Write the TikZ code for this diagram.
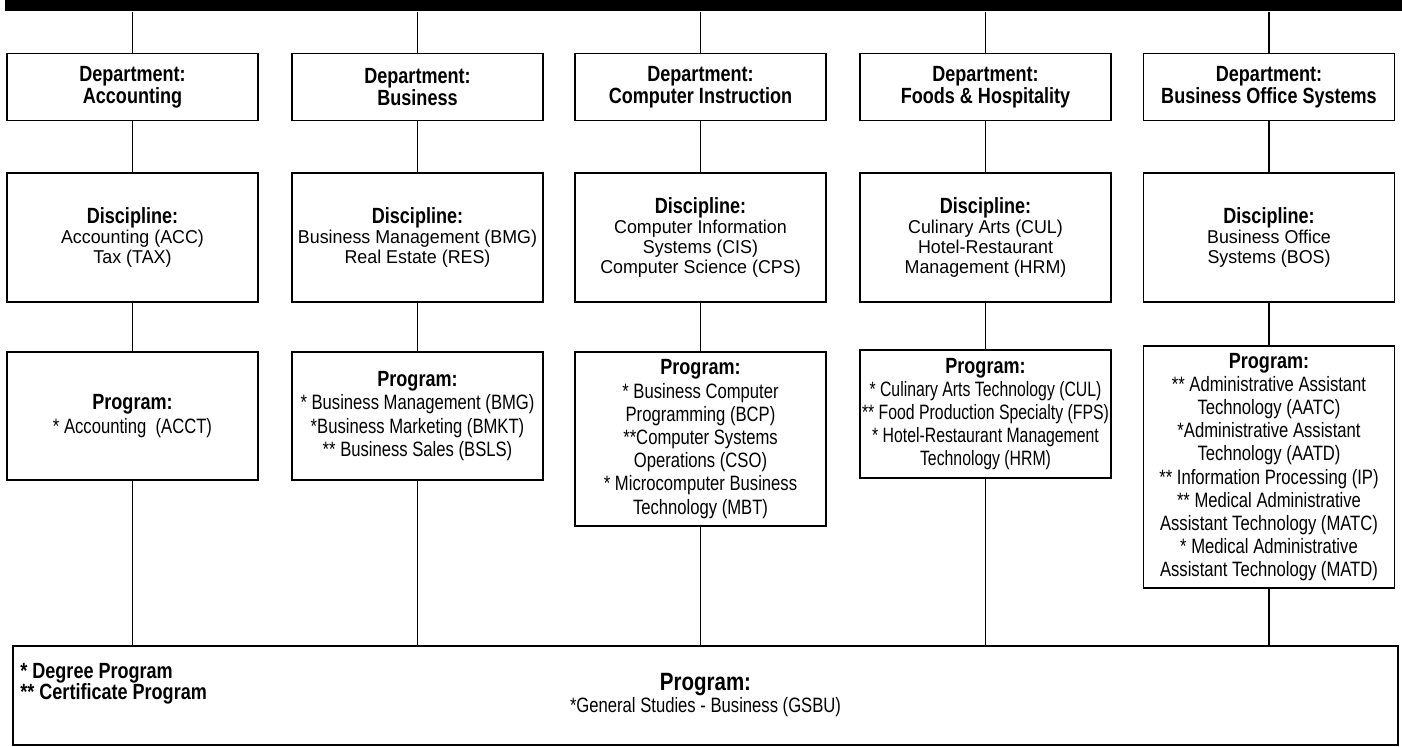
\documentclass[tikz,border=0pt]{standalone}
\usepackage{fontspec}
\setmainfont{Liberation Sans}
\newfontfamily\headsans{Liberation Sans}[FakeStretch=0.82]
\newfontfamily\discsans{Liberation Sans}[FakeStretch=0.96]
\newfontfamily\progsans{Liberation Sans}[FakeStretch=0.8]
\newfontfamily\tightsans{Liberation Sans}[FakeStretch=0.76]
\usepackage{tikz}
\usetikzlibrary{positioning}
\newcommand{\orghead}[1]{{\headsans\bfseries\fontsize{11}{11}\selectfont #1}}
\tikzset{
    orgbox/.style={draw, line width=0.9pt, inner sep=1pt, align=center, minimum width=125.5pt},
    orgdept/.style={orgbox, minimum height=33.5pt, font=\headsans\bfseries\fontsize{11}{11}\selectfont},
    orgdisc/.style={orgbox, minimum height=64.5pt, font=\discsans\fontsize{9.3}{10}\selectfont},
    orgprog/.style={orgbox, font=\progsans\fontsize{10.4}{11.6}\selectfont},
    orgwide/.style={draw, line width=0.9pt, align=center, minimum width=692.5pt, minimum height=49.5pt, font=\progsans\fontsize{10.4}{11}\selectfont},
    orgline/.style={line width=0.75pt}
}

\begin{document}
\begin{tikzpicture}[x=0.5pt, y=-0.5pt]
        \useasboundingbox (0,0) rectangle (1402,747);
        \node[fill=black, inner sep=0pt, minimum width=698.5pt, minimum height=5.5pt, anchor=north west] (topbar) at (5,0) {};

        \node[orgdept] (deptacc) at (132.5,87) {Department:\\Accounting};
        \node[orgdept] (deptbus) at (417.5,87) {Department:\\Business};
        \node[orgdept] (deptcomp) at (700.5,87) {Department:\\Computer Instruction};
        \node[orgdept] (deptfood) at (985.5,87) {Department:\\Foods \& Hospitality};
        \node[orgdept] (deptbos) at (1269,87) {Department:\\Business Office Systems};

        \node[orgdisc] (discacc) at (132.5,237.5) {\orghead{Discipline:}\\Accounting (ACC)\\Tax (TAX)};
        \node[orgdisc] (discbus) at (417.5,237.5) {\orghead{Discipline:}\\Business Management (BMG)\\Real Estate (RES)};
        \node[orgdisc] (disccomp) at (700.5,237.5) {\orghead{Discipline:}\\Computer Information\\Systems (CIS)\\Computer Science (CPS)};
        \node[orgdisc] (discfood) at (985.5,237.5) {\orghead{Discipline:}\\Culinary Arts (CUL)\\Hotel-Restaurant\\Management (HRM)};
        \node[orgdisc] (discbos) at (1269,237.5) {\orghead{Discipline:}\\Business Office\\Systems (BOS)};

        \node[orgprog, minimum height=64pt] (progacc) at (132.5,416) {\orghead{Program:}\\{}* Accounting\ \ (ACCT)};
        \node[orgprog, minimum height=64pt] (progbus) at (417.5,416) {\orghead{Program:}\\{}* Business Management (BMG)\\{}*Business Marketing (BMKT)\\{}** Business Sales (BSLS)};
        \node[orgprog, minimum height=87pt] (progcomp) at (700.5,439) {\orghead{Program:}\\{}* Business Computer\\Programming (BCP)\\{}**Computer Systems\\Operations (CSO)\\{}* Microcomputer Business\\Technology (MBT)};
        \node[orgprog, minimum height=64pt, font=\tightsans\fontsize{10.4}{11.6}\selectfont] (progfood) at (985.5,414) {\orghead{Program:}\\{}* Culinary Arts Technology (CUL)\\{}** Food Production Specialty (FPS)\\{}* Hotel-Restaurant Management\\Technology (HRM)};
        \node[orgprog, minimum height=121pt] (progbos) at (1269,467) {\orghead{Program:}\\{}** Administrative Assistant\\Technology (AATC)\\{}*Administrative Assistant\\Technology (AATD)\\{}** Information Processing (IP)\\{}** Medical Administrative\\Assistant Technology (MATC)\\{}* Medical Administrative\\Assistant Technology (MATD)};

        \node[orgwide] (gsbu) at (705.5,695.5) {{\headsans\bfseries\fontsize{12.5}{12}\selectfont Program:}\\{}*General Studies - Business (GSBU)};
        \node[font=\headsans\bfseries\fontsize{11}{10.5}\selectfont, align=left, anchor=west, inner sep=0pt] (legend) at (20,684) {* Degree Program\\{}** Certificate Program};

        \draw[orgline] (deptacc.north) -- (deptacc.north |- topbar.south);
        \draw[orgline] (deptbus.north) -- (deptbus.north |- topbar.south);
        \draw[orgline] (deptcomp.north) -- (deptcomp.north |- topbar.south);
        \draw[orgline] (deptfood.north) -- (deptfood.north |- topbar.south);
        \draw[orgline] (deptbos.north) -- (deptbos.north |- topbar.south);
        \draw[orgline] (deptacc) -- (discacc);
        \draw[orgline] (deptbus) -- (discbus);
        \draw[orgline] (deptcomp) -- (disccomp);
        \draw[orgline] (deptfood) -- (discfood);
        \draw[orgline] (deptbos) -- (discbos);
        \draw[orgline] (discacc) -- (progacc);
        \draw[orgline] (discbus) -- (progbus);
        \draw[orgline] (disccomp) -- (progcomp);
        \draw[orgline] (discfood) -- (progfood);
        \draw[orgline] (discbos) -- (progbos);
        \draw[orgline] (progacc.south) -- (progacc.south |- gsbu.north);
        \draw[orgline] (progbus.south) -- (progbus.south |- gsbu.north);
        \draw[orgline] (progcomp.south) -- (progcomp.south |- gsbu.north);
        \draw[orgline] (progfood.south) -- (progfood.south |- gsbu.north);
        \draw[orgline] (progbos.south) -- (progbos.south |- gsbu.north);
    \end{tikzpicture}
\end{document}
